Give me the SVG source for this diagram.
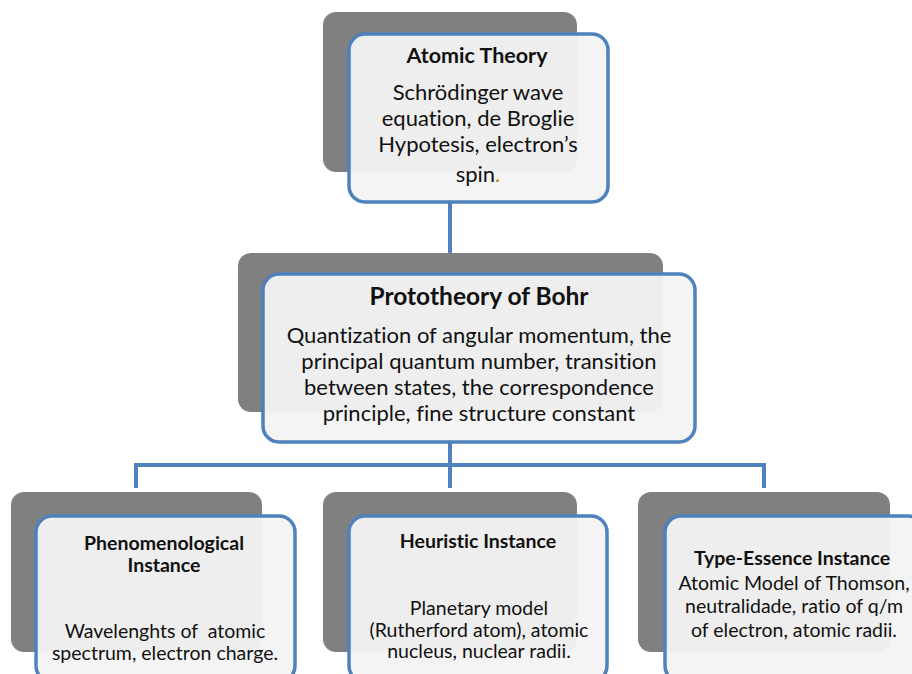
<svg xmlns="http://www.w3.org/2000/svg" width="912" height="674" viewBox="0 0 912 674">
  <style>
    .back { fill: #808080; }
    .card { fill: #f3f3f3; fill-opacity: 0.95; stroke: #4f81bd; stroke-width: 3.5; }
    .link { fill: none; stroke: #4f81bd; stroke-width: 4; }
    text { font-family: Lato, "Liberation Sans", sans-serif; fill: #111; text-anchor: middle; font-variant-ligatures: none; }
    .t1 { font-size: 21.5px; font-weight: bold; }
    .t2 { font-size: 24.5px; font-weight: bold; }
    .t3 { font-size: 19.5px; font-weight: bold; }
    .b1 { font-size: 22px; }
    .b3 { font-size: 19.5px; }
  </style>
  <rect width="912" height="674" fill="#ffffff"/>

  <!-- connectors (drawn first so cards overlap the line ends) -->
  <g id="connectors">
    <path class="link" d="M450 200 V275"/>
    <path class="link" d="M450 440 V465 M136 488 V465 H764 V488 M450 465 V488"/>
  </g>

  <g id="atomic-theory">
    <rect class="back" x="323" y="12" width="254" height="160" rx="13"/>
    <rect class="card" x="349" y="34" width="259" height="168" rx="16"/>
    <text class="t1" x="477" y="63">Atomic Theory</text>
    <text class="b1" x="478" y="100">Schrödinger wave</text>
    <text class="b1" x="478" y="126">equation, de Broglie</text>
    <text class="b1" x="478" y="152">Hypotesis, electron’s</text>
    <text class="b1" x="478" y="182">spin<tspan fill="#b08a10">.</tspan></text>
  </g>

  <g id="prototheory-bohr">
    <rect class="back" x="238" y="253" width="425" height="159" rx="13"/>
    <rect class="card" x="263" y="274" width="432" height="168" rx="16"/>
    <text class="t2" x="479" y="305">Prototheory of Bohr</text>
    <text class="b1" x="479" y="343">Quantization of angular momentum, the</text>
    <text class="b1" x="479" y="369">principal quantum number, transition</text>
    <text class="b1" x="479" y="395">between states, the correspondence</text>
    <text class="b1" x="479" y="421">principle, fine structure constant</text>
  </g>

  <g id="phenomenological-instance">
    <rect class="back" x="11" y="492" width="251" height="160" rx="13"/>
    <rect class="card" x="36" y="516" width="259" height="166" rx="16"/>
    <text class="t3" x="164" y="550">Phenomenological</text>
    <text class="t3" x="164" y="572">Instance</text>
    <text class="b3" x="165" y="638" style="white-space: pre">Wavelenghts of  atomic</text>
    <text class="b3" x="165" y="660">spectrum, electron charge.</text>
  </g>

  <g id="heuristic-instance">
    <rect class="back" x="323" y="492" width="254" height="160" rx="13"/>
    <rect class="card" x="349" y="516" width="258" height="166" rx="16"/>
    <text class="t3" x="478" y="548">Heuristic Instance</text>
    <text class="b3" x="479" y="615">Planetary model</text>
    <text class="b3" x="479" y="637">(Rutherford atom), atomic</text>
    <text class="b3" x="479" y="658">nucleus, nuclear radii.</text>
  </g>

  <g id="type-essence-instance">
    <rect class="back" x="638" y="492" width="252" height="160" rx="13"/>
    <rect class="card" x="665" y="516" width="259" height="166" rx="16"/>
    <text class="t3" x="792" y="565">Type-Essence Instance</text>
    <text class="b3" x="794" y="590">Atomic Model of Thomson,</text>
    <text class="b3" x="794" y="613">neutralidade, ratio of q/m</text>
    <text class="b3" x="794" y="637">of electron, atomic radii.</text>
  </g>
</svg>
